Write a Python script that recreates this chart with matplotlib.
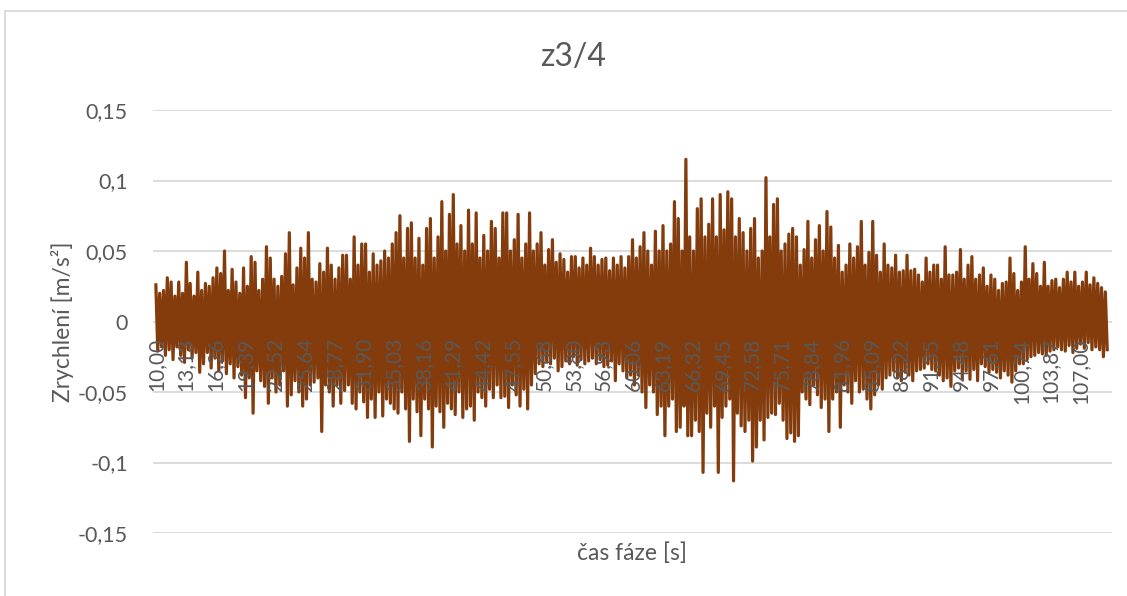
import numpy as np
import matplotlib
matplotlib.use("Agg")
import matplotlib.pyplot as plt
from matplotlib.patches import Rectangle

# Acceleration record z3/4: alternating positive and negative peaks,
# one pair every 0.4 s starting at 10 s (rows = 10 s blocks).
upper_peaks = [
    0.026, 0.020, 0.022, 0.031, 0.028, 0.018, 0.028, 0.020, 0.042, 0.027, 0.018, 0.035, 0.022,
    0.027, 0.025, 0.031, 0.038, 0.034, 0.050, 0.022, 0.037, 0.028, 0.020, 0.038, 0.025,
    0.046, 0.042, 0.022, 0.030, 0.053, 0.045, 0.030, 0.025, 0.032, 0.048, 0.063, 0.026, 0.038,
    0.052, 0.045, 0.063, 0.030, 0.028, 0.041, 0.035, 0.052, 0.040, 0.030, 0.038, 0.047,
    0.047, 0.030, 0.060, 0.040, 0.055, 0.055, 0.035, 0.048, 0.040, 0.043, 0.050, 0.045, 0.055,
    0.063, 0.075, 0.045, 0.066, 0.070, 0.045, 0.059, 0.040, 0.066, 0.073, 0.045, 0.060,
    0.085, 0.050, 0.076, 0.090, 0.055, 0.068, 0.050, 0.079, 0.055, 0.077, 0.045, 0.061, 0.050,
    0.071, 0.066, 0.045, 0.077, 0.077, 0.050, 0.058, 0.076, 0.045, 0.055, 0.077, 0.050,
    0.055, 0.063, 0.040, 0.051, 0.058, 0.042, 0.048, 0.044, 0.035, 0.046, 0.046, 0.038, 0.045,
    0.040, 0.052, 0.046, 0.040, 0.044, 0.045, 0.036, 0.045, 0.040, 0.046, 0.038, 0.046,
    0.058, 0.045, 0.053, 0.063, 0.050, 0.040, 0.064, 0.050, 0.068, 0.050, 0.055, 0.085, 0.073,
    0.050, 0.115, 0.060, 0.050, 0.080, 0.087, 0.060, 0.069, 0.087, 0.060, 0.090, 0.065,
    0.092, 0.087, 0.060, 0.073, 0.063, 0.050, 0.066, 0.073, 0.045, 0.050, 0.102, 0.060, 0.083,
    0.087, 0.050, 0.055, 0.062, 0.066, 0.060, 0.040, 0.051, 0.071, 0.045, 0.058, 0.068,
    0.050, 0.078, 0.067, 0.045, 0.054, 0.035, 0.040, 0.055, 0.045, 0.053, 0.071, 0.040, 0.049,
    0.071, 0.047, 0.035, 0.055, 0.040, 0.038, 0.047, 0.035, 0.036, 0.047, 0.036, 0.037,
    0.033, 0.028, 0.045, 0.035, 0.040, 0.040, 0.030, 0.053, 0.033, 0.033, 0.035, 0.051, 0.030,
    0.040, 0.046, 0.030, 0.033, 0.038, 0.025, 0.033, 0.030, 0.022, 0.027, 0.028, 0.045,
    0.034, 0.022, 0.028, 0.053, 0.030, 0.041, 0.034, 0.025, 0.042, 0.025, 0.029, 0.030, 0.024,
    0.030, 0.035, 0.028, 0.035, 0.025, 0.028, 0.035, 0.026, 0.031, 0.027, 0.024, 0.021,
]
lower_peaks = [
    -0.021, -0.018, -0.024, -0.020, -0.027, -0.018, -0.024, -0.029, -0.020, -0.026, -0.022, -0.036, -0.030,
    -0.022, -0.033, -0.026, -0.035, -0.028, -0.037, -0.030, -0.040, -0.032, -0.038, -0.054, -0.040,
    -0.065, -0.035, -0.042, -0.046, -0.058, -0.040, -0.050, -0.045, -0.035, -0.060, -0.052, -0.042, -0.050,
    -0.060, -0.055, -0.045, -0.043, -0.040, -0.078, -0.045, -0.050, -0.060, -0.045, -0.058, -0.049,
    -0.045, -0.058, -0.062, -0.050, -0.057, -0.068, -0.055, -0.068, -0.050, -0.067, -0.055, -0.058, -0.062,
    -0.065, -0.050, -0.062, -0.085, -0.055, -0.064, -0.081, -0.055, -0.062, -0.089, -0.060, -0.064,
    -0.075, -0.058, -0.062, -0.066, -0.050, -0.068, -0.062, -0.060, -0.070, -0.050, -0.054, -0.060, -0.048,
    -0.054, -0.045, -0.054, -0.053, -0.061, -0.045, -0.052, -0.060, -0.048, -0.062, -0.045, -0.037,
    -0.030, -0.032, -0.028, -0.030, -0.026, -0.035, -0.032, -0.028, -0.030, -0.025, -0.031, -0.027, -0.030,
    -0.028, -0.026, -0.030, -0.027, -0.032, -0.031, -0.028, -0.042, -0.030, -0.035, -0.040, -0.038,
    -0.045, -0.038, -0.050, -0.061, -0.045, -0.050, -0.066, -0.060, -0.081, -0.060, -0.055, -0.078, -0.075,
    -0.060, -0.081, -0.081, -0.070, -0.078, -0.107, -0.065, -0.075, -0.060, -0.107, -0.068, -0.060,
    -0.055, -0.113, -0.065, -0.074, -0.078, -0.070, -0.099, -0.089, -0.070, -0.084, -0.068, -0.065, -0.066,
    -0.058, -0.070, -0.083, -0.079, -0.085, -0.081, -0.050, -0.055, -0.059, -0.045, -0.052, -0.061,
    -0.055, -0.078, -0.055, -0.050, -0.075, -0.045, -0.050, -0.058, -0.042, -0.050, -0.048, -0.055, -0.062,
    -0.052, -0.045, -0.048, -0.040, -0.038, -0.035, -0.040, -0.042, -0.036, -0.038, -0.042, -0.035,
    -0.034, -0.033, -0.030, -0.034, -0.035, -0.038, -0.042, -0.040, -0.046, -0.035, -0.033, -0.040, -0.035,
    -0.041, -0.034, -0.042, -0.030, -0.032, -0.036, -0.034, -0.036, -0.040, -0.035, -0.038, -0.043,
    -0.035, -0.030, -0.030, -0.027, -0.025, -0.024, -0.022, -0.023, -0.024, -0.021, -0.020, -0.018, -0.020,
    -0.021, -0.017, -0.022, -0.019, -0.016, -0.019, -0.015, -0.020, -0.018, -0.020, -0.025, -0.020,
]

time_labels = ["10,00", "13,13", "16,26", "19,39", "22,52", "25,64", "28,77", "31,90",
               "35,03", "38,16", "41,29", "44,42", "47,55", "50,68", "53,80", "56,93",
               "60,06", "63,19", "66,32", "69,45", "72,58", "75,71", "78,84", "81,96",
               "85,09", "88,22", "91,35", "94,48", "97,61", "100,74", "103,87", "107,00"]
accel_ticks = [-0.15, -0.1, -0.05, 0.0, 0.05, 0.1, 0.15]
accel_labels = ["-0,15", "-0,1", "-0,05", "0", "0,05", "0,1", "0,15"]

start_time = 10.0
pair_step = 0.4

# interleave the peaks into one time series
n = len(upper_peaks)
t_up = start_time + pair_step * np.arange(n)
time = np.empty(2 * n)
accel = np.empty(2 * n)
time[0::2] = t_up
time[1::2] = t_up + pair_step / 2
accel[0::2] = upper_peaks
accel[1::2] = lower_peaks
tick_pos = [float(s.replace(",", ".")) for s in time_labels]

W, H, DPI = 1127, 596, 100
GRAY_TXT = "#595959"
GRID = "#D9D9D9"
LINE = "#843C0C"

plt.rcParams["font.family"] = ["Lato", "DejaVu Sans"]

fig = plt.figure(figsize=(W / DPI, H / DPI), dpi=DPI)
fig.patches.append(Rectangle((5 / W, -0.1), 1.2, 1.1 - 11 / H, transform=fig.transFigure,
                             fill=False, edgecolor=GRID, lw=1.3))

ax = fig.add_axes([153 / W, 1 - 533 / H, (1112 - 153) / W, (533 - 110) / H])
ax.plot(time, accel, color=LINE, lw=2.3, solid_joinstyle="round", zorder=2)

ax.set_xlim(9.7, 110.3)
ax.set_ylim(-0.15, 0.15)
ax.set_yticks(accel_ticks, accel_labels)
ax.set_xticks(tick_pos, time_labels)

for s in ax.spines.values():
    s.set_visible(False)
ax.spines["bottom"].set_position(("data", 0))

ax.yaxis.grid(True, color=GRID, lw=1.3)
ax.yaxis.set_zorder(0.5)
ax.xaxis.set_zorder(3)
ax.tick_params(axis="y", length=0, pad=18, labelsize=15.5, labelcolor=GRAY_TXT)
ax.tick_params(axis="x", length=0, pad=12, labelsize=15, labelcolor=GRAY_TXT,
               labelrotation=90)

fig.text(573 / W, 1 - 57 / H, "z3/4", ha="center", va="center", fontsize=23, color=GRAY_TXT)
fig.text(632 / W, 1 - 553 / H, "čas fáze [s]", ha="center", va="center", fontsize=16.5,
         color=GRAY_TXT)
fig.text(62 / W, 1 - 322 / H, "Zrychlení [m/s²]", ha="center", va="center", rotation=90,
         fontsize=16.5, color=GRAY_TXT)

fig.savefig("out.png", dpi=DPI)
